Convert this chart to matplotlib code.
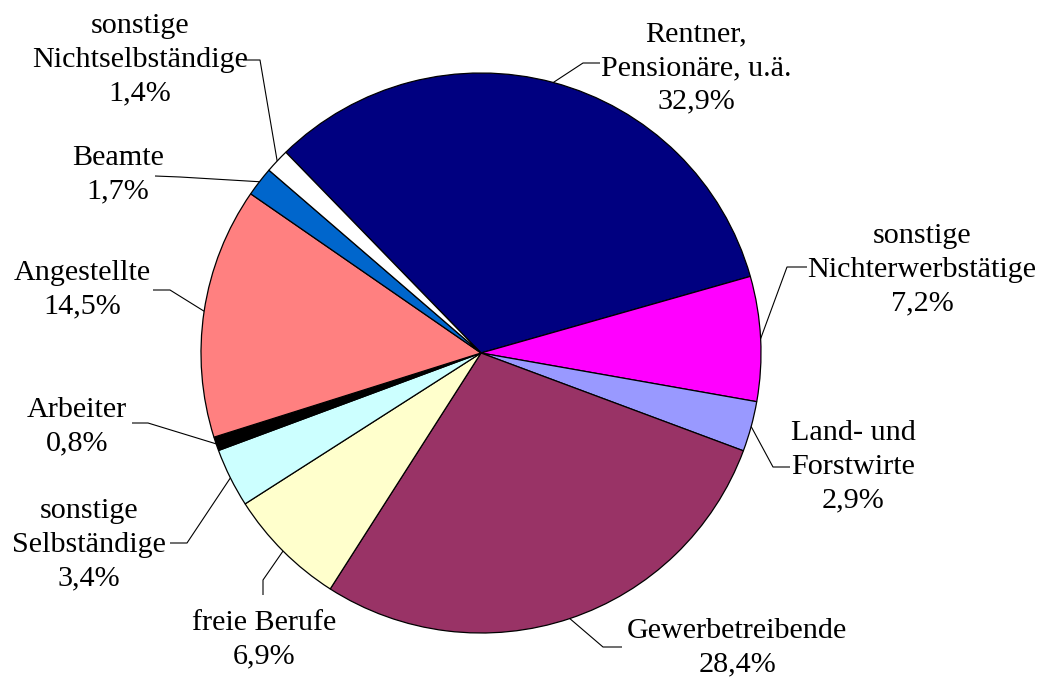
import numpy as np
import matplotlib
matplotlib.use("Agg")
import matplotlib.pyplot as plt

labels = ["Rentner,\nPensionäre, u.ä.", "sonstige\nNichterwerbstätige", "Land- und\nForstwirte",
          "Gewerbetreibende", "freie Berufe", "sonstige\nSelbständige", "Arbeiter",
          "Angestellte", "Beamte", "sonstige\nNichtselbständige"]
values = [32.9, 7.2, 2.9, 28.4, 6.9, 3.4, 0.8, 14.5, 1.7, 1.4]
colors = ["#000080", "#FF00FF", "#9999FF", "#993366", "#FFFFCC", "#CCFFFF", "#000000",
          "#FF8080", "#0066CC", "#FFFFFF"]

W, H = 1042, 678
# label block centres (pixel coords, y from top) and leader elbows
label_pos = [(696, 68), (922, 270), (853, 467), (737, 648), (264, 640), (89, 545),
             (77, 427), (82, 290), (118, 175), (140, 60)]
leader_start = [(600, 63), (807, 267), (790, 467), (622, 647), (263, 595), (170, 543),
                (132, 423), (153, 290), (155, 176), (243, 60)]
leader_elbow = [(583, 63), (787, 267), (773, 467), (603, 647), (263, 580), (187, 543),
                (148, 423), (170, 290), (180, 177), (260, 60)]

plt.rcParams['font.family'] = ['Liberation Serif', 'DejaVu Serif']
fig = plt.figure(figsize=(W / 100, H / 100), dpi=100)
ax = fig.add_axes([0, 0, 1, 1])

cx, cy, r = 481, H - 353, 280
wedges, _ = ax.pie(values, colors=colors, startangle=134.2, counterclock=False,
                   center=(cx, cy), radius=r, frame=True,
                   wedgeprops=dict(edgecolor='black', linewidth=0.9))
ax.set_xlim(0, W)
ax.set_ylim(0, H)
ax.set_aspect('equal')
ax.axis('off')

for w, lab, val, lp, ls, le in zip(wedges, labels, values, label_pos, leader_start, leader_elbow):
    mid = np.deg2rad((w.theta1 + w.theta2) / 2)
    ex, ey = cx + r * np.cos(mid), cy + r * np.sin(mid)
    ax.plot([ls[0], le[0], ex], [H - ls[1], H - le[1], ey], color='black', lw=0.8,
            solid_capstyle='butt', zorder=1)
    txt = lab + "\n" + f"{val:.1f}".replace('.', ',') + "%"
    ax.text(lp[0], H - lp[1], txt, ha='center', va='center', fontsize=21.7,
            linespacing=1.38, color='black')

fig.savefig("out.png", dpi=100)
